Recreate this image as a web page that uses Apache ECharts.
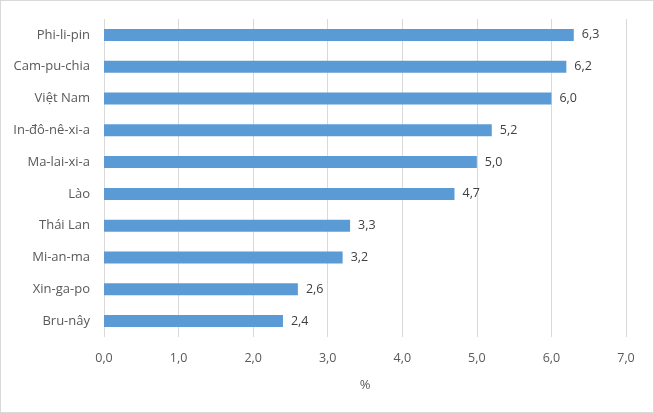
<!DOCTYPE html>
<html><head><meta charset="utf-8">
<script src="https://cdn.jsdelivr.net/npm/echarts@6/dist/echarts.min.js"></script>
<style>html,body{margin:0;padding:0;background:#fff}#c{width:654px;height:413px;box-sizing:border-box;border:1px solid #d9d9d9}</style>
</head><body><div id="c"></div>
<script>
var categories = ["Phi-li-pin","Cam-pu-chia","Việt Nam","In-đô-nê-xi-a","Ma-lai-xi-a","Lào","Thái Lan","Mi-an-ma","Xin-ga-po","Bru-nây"];
var values = [6.3,6.2,6.0,5.2,5.0,4.7,3.3,3.2,2.6,2.4];
var axisName = "%";
function fmt(v){return Number(v).toFixed(1).replace('.', ',');}
var chart = echarts.init(document.getElementById('c'), null, {renderer:'canvas'});
chart.setOption({
  animation:false,
  textStyle:{fontFamily:'Open Sans'},
  grid:{left:103,right:27,top:18,bottom:75,containLabel:false},
  xAxis:{type:'value',min:0,max:7,interval:1,
    name:axisName,nameLocation:'middle',nameGap:42,
    nameTextStyle:{color:'#595959',fontSize:13,fontFamily:'Open Sans'},
    axisLine:{show:false},axisTick:{show:false},
    axisLabel:{color:'#595959',fontSize:12.5,margin:15,formatter:fmt},
    splitLine:{lineStyle:{color:'#d9d9d9',width:1}}},
  yAxis:{type:'category',data:categories,inverse:true,
    axisLine:{show:false},axisTick:{show:false},
    axisLabel:{color:'#595959',fontSize:13,margin:14}},
  series:[{type:'bar',data:values,barWidth:12,
    itemStyle:{color:'#5b9bd5'},
    label:{show:true,position:'right',distance:8,color:'#404040',fontSize:12.5,formatter:function(p){return fmt(p.value);}}}]
});
</script></body></html>
